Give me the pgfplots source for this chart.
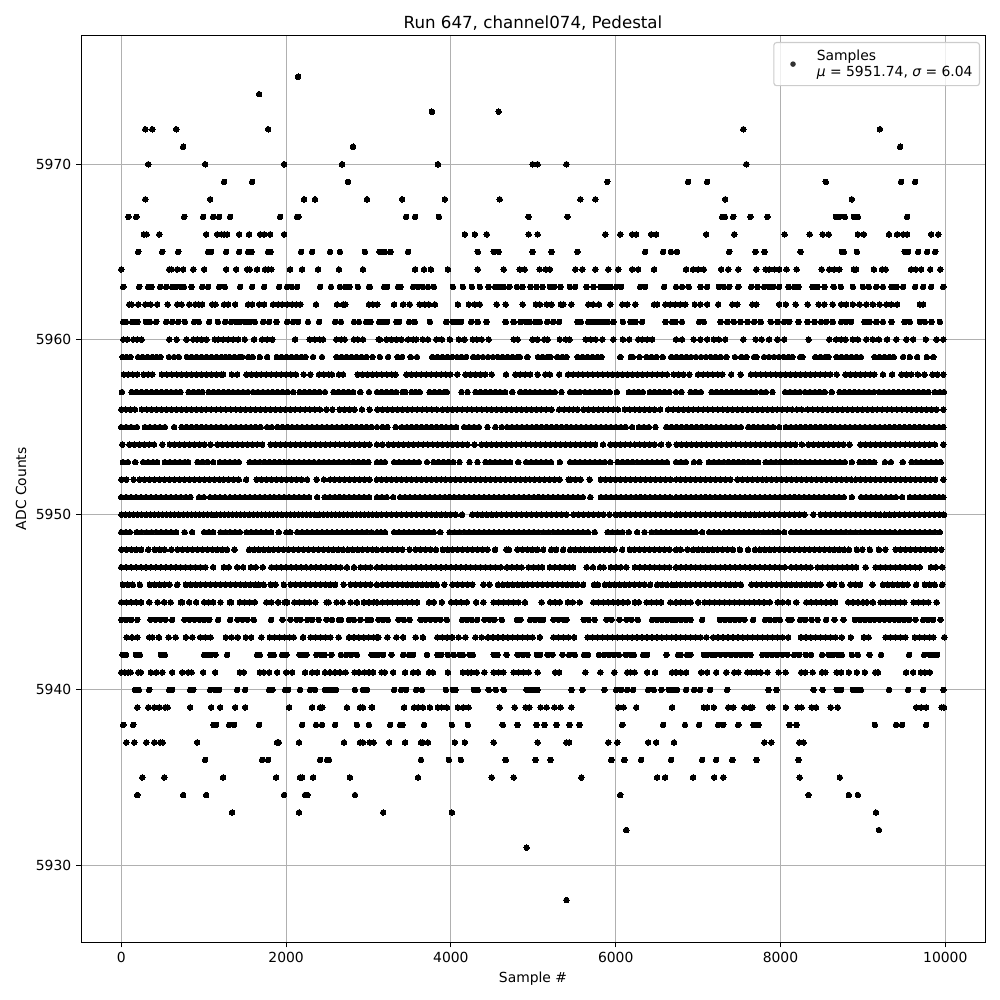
\documentclass[border=0pt]{standalone}
\usepackage{fontspec}
\setmainfont{DejaVu Sans}
\usepackage{pgfplots}
\pgfplotsset{compat=1.18}
\pgfplotsset{
 dot/.style={only marks,mark=*,mark size=2bp,mark options={draw=black,fill=black,line width=0pt},forget plot},
 dl/.style={only marks,mark=*,mark size=2bp,mark options={draw=black,fill=black,line width=0pt}},
 r/.style={/pgfplots/table/header=false,/pgfplots/table/x index=0}}
\begin{document}
\begin{tikzpicture}[x=1in,y=1in]
\useasboundingbox (0,0) rectangle (10,10);
\begin{axis}[at={(0.81in,0.575in)},anchor=south west,scale only axis,width=9.04in,height=9.075in,
 xmin=-489,xmax=10482,ymin=5925.58,ymax=5977.38,
 xtick={0,2000,...,10000},ytick={5930,5940,5950,5960,5970},
 scaled x ticks=false,scaled y ticks=false,
 /pgf/number format/assume math mode=true,
 /pgf/number format/set thousands separator={},
 ticklabel style={font=\fontsize{10bp}{12bp}\selectfont},
 tick align=outside,tick pos=left,major tick length=3.5bp,
 tick style={black,line width=0.8bp},
 axis line style={line width=0.6bp},
 grid=major,grid style={color={rgb,255:red,176;green,176;blue,176},line width=0.8bp},
 title={\fontsize{12bp}{14bp}\selectfont Run 647, channel074, Pedestal},
 title style={at={(0.5,1)},anchor=south,yshift=-6bp},
 xlabel={\fontsize{10bp}{12bp}\selectfont Sample \#},
 ylabel={\fontsize{10bp}{12bp}\selectfont ADC Counts},
 legend style={at={(0.9945,0.9923)},anchor=north east,draw={rgb,255:red,204;green,204;blue,204},line width=0.8bp,fill=white,fill opacity=0.8,text opacity=1,rounded corners=2bp,font=\fontsize{10bp}{12bp}\selectfont,nodes={align=left},inner xsep=3bp,inner ysep=3bp},
 legend cell align=left,
 legend image code/.code={\path[draw=none] (0,0) -- (0.36in,0);\fill[black,draw=none] (0.15in,0) circle[radius=2bp];},
]
\addplot[dl] table[r,y expr=5975]{
2145
};
\addlegendentry{Samples\\{\itshape μ} = 5951.74, {\itshape σ} = 6.04}
\addplot[dot] table[r,y expr=5974]{
1673
};
\addplot[dot] table[r,y expr=5973]{
3770
4580
};
\addplot[dot] table[r,y expr=5972]{
291
376
667
1782
7549
9207
};
\addplot[dot] table[r,y expr=5971]{
751
2812
9451
};
\addplot[dot] table[r,y expr=5970]{
327
1018
1976
2679
3843
4991
5052
5402
7585
};
\addplot[dot] table[r,y expr=5969]{
1248
1588
2751
5898
6878
7110
8549
9463
9634
};
\addplot[dot] table[r,y expr=5968]{
291
1079
2218
2351
2982
3408
3927
4592
5572
5753
7329
8866
};
\addplot[dot] table[r,y expr=5967]{
85
182
764
994
1115
1188
1321
1927
2133
2149
3456
3565
3855
4943
5415
7293
7325
7427
7634
7841
8671
8715
8780
8890
8939
9537
};
\addplot[dot] table[r,y expr=5966]{
275
307
461
1030
1164
1216
1248
1285
1430
1551
1685
1733
1806
1976
4169
4290
4435
4943
5052
5874
6055
6200
6249
6430
6491
7098
7439
8049
8354
8512
8585
8939
9012
9317
9415
9488
9537
9829
9915
};
\addplot[dot] table[r,y expr=5965]{
206
497
691
1054
1091
1273
1430
1539
1580
1782
1810
2182
2315
2533
2654
2957
3135
3158
3198
3267
3480
4326
4520
4580
4991
5221
5535
6358
6575
6671
6744
7378
7695
7805
8244
8744
8768
8927
9508
9549
9671
9780
9878
};
\addplot[dot] table[r,y expr=5964]{
0
582
610
679
751
873
1006
1273
1394
1527
1559
1648
1745
1782
1822
2048
2194
2388
2642
2933
3565
3674
3758
3964
4326
4641
4834
4895
5076
5153
5201
5511
5596
5753
5910
6031
6200
6273
6466
6854
6939
7000
7069
7280
7366
7488
7707
7821
7862
7927
7984
8073
8195
8500
8593
8654
8715
8890
8919
9134
9232
9276
9585
9642
9707
9817
9939
};
\addplot[dot] table[r,y expr=5963]{
24
218
327
368
473
545
618
658
723
760
852
982
1054
1188
1256
1442
1588
1733
1915
2012
2068
2133
2412
2545
2654
2715
2771
2872
3006
3017
3190
3226
3359
3387
3541
3601
3661
3722
3794
4024
4145
4254
4351
4455
4536
4588
4637
4709
4802
4870
4967
5040
5112
5201
5253
5330
5443
5507
5644
5729
5817
5878
5938
6007
6067
6297
6358
6587
6732
6805
6886
7028
7110
7252
7313
7378
7488
7646
7720
7801
7862
7911
7984
8098
8167
8220
8390
8451
8533
8646
8732
8878
9000
9073
9163
9244
9346
9406
9488
9634
9732
9829
9976
};
\addplot[dot] table[r,y expr=5962]{
97
125
206
291
356
436
562
679
731
824
897
941
982
1103
1143
1248
1297
1382
1539
1588
1673
1733
1842
1903
1951
2012
2072
2125
2174
2363
2618
2691
2719
3006
3054
3107
3311
3420
3501
3621
3682
3734
3807
4085
4218
4290
4351
4556
4665
4870
5032
5080
5161
5221
5334
5366
5463
5668
5725
5797
5934
6080
6140
6237
6466
6503
6604
6664
6724
6785
6846
6960
7028
7110
7244
7415
7476
7659
7707
7984
8065
8183
8329
8463
8533
8634
8736
8797
8878
8959
9041
9122
9203
9285
9346
9415
9691
9732
};
\addplot[dot] table[r,y expr=5961]{
24
57
133
194
299
347
424
545
618
691
772
885
941
1067
1172
1260
1333
1390
1438
1499
1559
1620
1721
1794
1883
2012
2085
2145
2266
2400
2594
2666
2824
2885
2973
3022
3130
3178
3226
3339
3371
3492
3561
3746
3944
4024
4073
4125
4246
4326
4431
4665
4762
4846
4911
4951
5024
5080
5169
5241
5314
5535
5576
5668
5725
5777
5838
5898
5971
6088
6180
6241
6321
6604
6684
6724
6805
7012
7069
7272
7354
7435
7516
7598
7679
7760
7882
7963
8045
8106
8220
8329
8411
8492
8553
8634
8736
8797
8858
9020
9081
9163
9244
9346
9508
9569
9691
9752
9833
9935
};
\addplot[dot] table[r,y expr=5960]{
24
73
145
194
246
582
671
792
873
921
974
1034
1135
1176
1236
1297
1357
1418
1499
1612
1709
1770
1834
2109
2287
2347
2408
2448
2610
2670
2711
2824
2872
2933
3123
3138
3218
3279
3339
3400
3480
3541
3581
3661
3722
3823
3891
3988
4097
4165
4266
4314
4375
4459
4762
4810
4991
5052
5132
5173
5322
5394
5439
5636
5697
5757
5838
5971
6088
6164
6273
6321
6382
6442
6732
6805
6947
7028
7110
7191
7252
7329
7549
7699
7772
7862
7963
8045
8341
8593
8675
8736
8789
8878
8939
9041
9122
9195
9293
9406
9528
9610
9764
9894
9976
};
\addplot[dot] table[r,y expr=5959]{
16
65
113
204
260
320
375
430
477
578
640
699
796
855
915
975
1035
1095
1155
1215
1265
1309
1370
1430
1466
1539
1596
1681
1770
1887
1945
2005
2065
2125
2185
2234
2327
2436
2614
2675
2735
2795
2855
2915
2975
3050
3138
3238
3351
3408
3512
3589
3774
3835
3895
3955
4015
4075
4125
4185
4270
4330
4390
4450
4510
4570
4630
4690
4750
4810
4838
4927
5056
5115
5170
5209
5290
5350
5402
5539
5600
5660
5720
5780
5826
6055
6184
6208
6289
6374
6435
6495
6571
6675
6735
6795
6855
6915
6975
7035
7095
7155
7215
7275
7342
7447
7524
7585
7679
7707
7801
7861
7921
7981
8041
8101
8146
8240
8268
8423
8483
8543
8581
8679
8739
8799
8859
8919
8976
9142
9202
9262
9322
9374
9488
9569
9659
9776
9854
};
\addplot[dot] table[r,y expr=5958]{
32
85
140
194
271
325
376
493
553
613
673
733
793
853
913
973
1033
1093
1153
1213
1236
1341
1406
1519
1579
1639
1699
1759
1819
1879
1939
1999
2059
2119
2214
2295
2400
2460
2520
2557
2642
2691
2868
2928
2988
3048
3103
3163
3223
3283
3327
3460
3520
3580
3640
3700
3760
3820
3880
3940
3992
4077
4177
4237
4297
4357
4417
4496
4669
4782
4842
4902
4962
5052
5145
5201
5314
5423
5483
5543
5603
5663
5723
5783
5843
5903
5963
6023
6083
6143
6203
6263
6323
6383
6443
6503
6563
6623
6704
6764
6824
6894
7000
7060
7120
7180
7240
7293
7402
7516
7642
7702
7762
7822
7882
7942
8002
8062
8122
8182
8242
8302
8362
8422
8482
8542
8602
8683
8789
8849
8909
8969
9029
9089
9138
9244
9354
9467
9527
9587
9667
9748
9845
9905
9976
};
\addplot[dot] table[r,y expr=5957]{
8
125
185
245
305
365
425
485
545
605
665
719
816
876
936
982
1058
1118
1178
1238
1298
1358
1418
1478
1538
1598
1658
1718
1778
1838
1898
1958
2018
2085
2165
2225
2285
2345
2405
2472
2574
2634
2694
2754
2814
2901
3006
3103
3160
3220
3280
3335
3412
3448
3524
3574
3621
3742
3802
3862
3922
3952
4129
4202
4298
4358
4418
4478
4538
4598
4658
4745
4842
4902
4962
5022
5082
5142
5202
5262
5342
5447
5507
5567
5627
5687
5747
5807
5867
5927
6015
6160
6220
6280
6329
6414
6474
6534
6594
6654
6732
6800
6911
6972
7033
7163
7223
7283
7343
7403
7463
7523
7583
7643
7703
7763
7823
7902
8057
8117
8177
8237
8297
8357
8417
8477
8537
8622
8715
8775
8835
8895
8955
9015
9075
9135
9195
9255
9315
9375
9435
9495
9555
9615
9675
9735
9795
9874
9935
9984
};
\addplot[dot] table[r,y expr=5956]{
0
55
110
166
250
310
370
430
490
550
610
670
730
790
850
910
970
1030
1090
1150
1210
1270
1330
1390
1450
1510
1570
1630
1690
1750
1810
1870
1930
1990
2050
2110
2170
2230
2290
2350
2410
2489
2562
2650
2710
2770
2830
2921
3014
3107
3170
3230
3290
3350
3410
3470
3530
3590
3650
3710
3770
3830
3900
3956
4016
4076
4136
4196
4256
4316
4376
4436
4496
4556
4616
4676
4736
4796
4856
4916
4976
5036
5096
5156
5221
5314
5374
5434
5483
5540
5608
5668
5728
5788
5848
5908
5968
6027
6112
6172
6232
6292
6352
6412
6472
6539
6636
6696
6760
6820
6880
6940
7000
7060
7120
7180
7240
7300
7360
7420
7480
7540
7600
7660
7720
7780
7840
7900
7960
8020
8080
8140
8200
8260
8333
8393
8453
8513
8573
8633
8693
8753
8813
8873
8933
8993
9053
9113
9173
9233
9293
9353
9413
9473
9533
9593
9653
9713
9773
9833
9893
9976
};
\addplot[dot] table[r,y expr=5955]{
0
60
120
190
287
347
407
467
529
642
731
791
851
911
971
1031
1091
1151
1211
1271
1331
1391
1451
1511
1571
1631
1691
1770
1826
1895
1955
2015
2075
2135
2195
2255
2315
2375
2435
2495
2555
2615
2675
2735
2795
2855
2915
2975
3035
3103
3170
3230
3330
3404
3464
3524
3584
3644
3704
3764
3824
3884
3944
4004
4064
4161
4221
4281
4341
4443
4540
4617
4681
4741
4801
4861
4921
4981
5041
5101
5161
5221
5281
5341
5401
5461
5521
5581
5641
5701
5761
5821
5881
5941
6001
6061
6121
6200
6281
6341
6401
6482
6615
6675
6740
6800
6860
6920
6980
7040
7100
7160
7220
7280
7340
7400
7460
7520
7610
7670
7730
7790
7850
7910
7984
8065
8125
8185
8245
8305
8365
8425
8485
8545
8605
8665
8725
8785
8845
8905
8965
9025
9085
9145
9205
9265
9325
9385
9445
9505
9565
9625
9685
9745
9805
9865
9925
9976
};
\addplot[dot] table[r,y expr=5954]{
12
97
157
217
277
337
397
497
590
650
710
770
830
890
950
1010
1083
1168
1228
1288
1348
1408
1468
1528
1588
1648
1709
1814
1874
1934
1994
2054
2114
2174
2234
2294
2354
2414
2474
2534
2594
2654
2714
2774
2834
2894
2954
3014
3103
3170
3242
3302
3362
3422
3482
3542
3602
3662
3722
3782
3842
3902
3962
4022
4082
4142
4202
4286
4371
4431
4491
4551
4611
4671
4731
4791
4851
4911
4971
5031
5091
5151
5211
5271
5331
5391
5451
5511
5571
5631
5691
5751
5846
5934
5994
6054
6114
6174
6234
6294
6354
6414
6474
6551
6644
6740
6800
6860
6920
6980
7040
7100
7160
7220
7280
7340
7400
7460
7520
7580
7640
7700
7760
7820
7880
7940
8000
8060
8120
8180
8260
8341
8401
8461
8521
8581
8641
8701
8761
8837
8971
9031
9091
9151
9211
9271
9331
9391
9451
9511
9571
9631
9691
9751
9811
9874
9976
};
\addplot[dot] table[r,y expr=5953]{
20
80
170
267
327
387
436
529
589
649
709
769
812
925
985
1045
1115
1196
1256
1316
1376
1426
1559
1619
1679
1739
1799
1859
1919
1979
2039
2099
2159
2219
2279
2339
2399
2459
2519
2579
2639
2699
2759
2819
2879
2939
2999
3103
3150
3200
3311
3371
3431
3491
3551
3611
3710
3790
3850
3910
3970
4030
4105
4226
4322
4419
4479
4539
4599
4659
4719
4818
4915
4975
5035
5095
5155
5215
5322
5447
5507
5567
5627
5687
5747
5807
5867
5934
6023
6083
6143
6203
6263
6323
6383
6443
6503
6563
6623
6732
6790
6850
6950
7016
7130
7190
7250
7310
7370
7430
7490
7550
7610
7670
7728
7821
7881
7941
8001
8061
8121
8181
8241
8301
8361
8421
8481
8541
8601
8661
8721
8781
8866
8959
9019
9079
9138
9268
9341
9484
9589
9649
9709
9769
9829
9889
9943
};
\addplot[dot] table[r,y expr=5952]{
0
60
150
226
286
346
406
466
526
586
646
706
766
826
886
946
1006
1066
1126
1186
1246
1306
1366
1426
1515
1644
1704
1764
1824
1884
1944
2004
2064
2124
2184
2254
2371
2460
2533
2593
2653
2713
2773
2833
2893
2953
3013
3103
3160
3220
3280
3340
3400
3460
3520
3580
3640
3700
3760
3820
3880
3940
4000
4060
4120
4180
4240
4300
4360
4420
4480
4540
4600
4660
4720
4780
4840
4900
4960
5020
5080
5140
5200
5260
5320
5430
5455
5515
5575
5685
5821
5881
5941
6001
6061
6121
6181
6241
6301
6361
6421
6481
6541
6601
6661
6732
6790
6850
6910
6970
7030
7090
7150
7210
7270
7330
7390
7476
7536
7596
7656
7716
7776
7836
7896
7956
8016
8076
8136
8196
8256
8316
8376
8436
8496
8556
8616
8676
8736
8796
8856
8916
8976
9036
9096
9156
9216
9276
9336
9396
9456
9516
9576
9636
9696
9756
9816
9876
9976
};
\addplot[dot] table[r,y expr=5951]{
0
60
120
180
240
300
360
420
480
540
600
660
720
780
840
943
1002
1079
1139
1199
1259
1319
1379
1439
1499
1559
1619
1679
1739
1799
1859
1919
1979
2039
2099
2159
2219
2279
2376
2468
2528
2588
2648
2708
2768
2828
2888
2948
3008
3103
3160
3220
3300
3383
3443
3503
3563
3623
3683
3743
3803
3863
3923
3983
4043
4103
4163
4223
4283
4343
4403
4463
4523
4583
4643
4703
4763
4823
4883
4943
5003
5063
5123
5183
5243
5303
5363
5423
5483
5543
5603
5693
5821
5881
5941
6001
6061
6121
6181
6241
6301
6361
6421
6481
6541
6601
6661
6732
6790
6850
6910
6970
7030
7090
7150
7210
7270
7330
7390
7450
7510
7570
7630
7690
7750
7810
7870
7930
7990
8050
8110
8170
8230
8290
8350
8410
8470
8530
8590
8650
8710
8770
8867
8980
9040
9100
9160
9220
9280
9340
9400
9476
9569
9629
9689
9749
9809
9869
9929
9976
};
\addplot[dot] table[r,y expr=5950]{
0
50
100
150
200
250
300
350
400
450
500
550
600
650
700
750
800
850
900
950
1000
1050
1100
1150
1200
1250
1300
1350
1400
1450
1500
1550
1600
1650
1700
1750
1800
1850
1900
1950
2000
2050
2100
2150
2200
2250
2300
2350
2400
2450
2500
2550
2600
2650
2700
2750
2800
2850
2900
2950
3000
3050
3103
3160
3220
3280
3340
3400
3460
3520
3580
3640
3700
3760
3820
3880
3940
4000
4060
4135
4258
4318
4378
4438
4498
4558
4618
4678
4738
4798
4858
4918
4978
5038
5098
5158
5218
5278
5338
5402
5487
5547
5607
5667
5727
5787
5847
5926
6003
6063
6123
6183
6243
6303
6363
6423
6483
6543
6603
6663
6732
6790
6850
6910
6970
7030
7090
7150
7210
7270
7330
7390
7450
7510
7570
7630
7690
7750
7810
7870
7930
7990
8050
8110
8170
8230
8290
8398
8488
8548
8608
8668
8728
8788
8848
8908
8968
9028
9088
9148
9208
9268
9328
9388
9448
9508
9568
9628
9688
9748
9808
9868
9928
9984
};
\addplot[dot] table[r,y expr=5949]{
0
55
105
186
246
306
366
426
486
546
606
666
768
860
1006
1060
1115
1204
1264
1324
1384
1438
1519
1579
1639
1699
1759
1819
1911
2004
2052
2137
2197
2257
2317
2377
2437
2497
2557
2617
2677
2737
2797
2857
2917
2977
3037
3103
3150
3200
3311
3371
3431
3491
3551
3611
3671
3731
3791
3871
3984
4044
4104
4164
4224
4284
4344
4404
4464
4524
4584
4644
4704
4764
4824
4884
4944
5004
5064
5124
5184
5244
5304
5364
5424
5484
5544
5604
5664
5745
5902
5962
6022
6082
6160
6261
6350
6434
6494
6554
6614
6674
6732
6790
6850
6910
6970
7050
7134
7194
7254
7314
7374
7434
7494
7554
7614
7674
7734
7794
7854
7914
7974
8045
8130
8190
8250
8310
8370
8430
8490
8550
8610
8670
8730
8790
8850
8910
8970
9030
9090
9150
9210
9270
9330
9390
9450
9510
9570
9630
9690
9750
9810
9870
9935
};
\addplot[dot] table[r,y expr=5948]{
0
60
120
180
240
327
408
468
528
606
683
743
803
863
923
983
1043
1103
1163
1223
1283
1374
1551
1611
1671
1731
1791
1851
1911
1971
2031
2091
2151
2211
2271
2331
2391
2451
2511
2571
2631
2691
2751
2811
2871
2931
2991
3051
3103
3170
3230
3290
3350
3410
3500
3573
3633
3693
3753
3819
3903
3963
4023
4083
4143
4203
4263
4323
4383
4443
4536
4673
4705
4806
4866
4926
4986
5046
5120
5217
5277
5362
5447
5507
5567
5627
5687
5747
5807
5867
5927
5987
6079
6172
6232
6292
6352
6412
6472
6532
6592
6652
6732
6790
6870
6939
6999
7059
7119
7179
7239
7299
7359
7423
7508
7606
7691
7751
7811
7871
7931
7991
8051
8111
8171
8231
8291
8351
8411
8471
8531
8591
8651
8711
8771
8831
8927
8992
9085
9195
9272
9398
9458
9518
9578
9638
9698
9758
9818
9878
9951
};
\addplot[dot] table[r,y expr=5947]{
0
60
120
180
240
300
360
420
480
540
600
660
720
780
840
900
960
1020
1115
1244
1304
1406
1479
1572
1632
1717
1822
1882
1942
2002
2062
2122
2182
2242
2302
2362
2422
2482
2542
2602
2662
2739
2824
2905
2965
3025
3103
3160
3220
3280
3340
3400
3460
3520
3580
3640
3700
3760
3820
3880
3940
4000
4060
4120
4180
4240
4300
4360
4420
4480
4540
4605
4681
4741
4801
4858
4943
5003
5063
5108
5201
5261
5321
5381
5441
5483
5648
5725
5810
5854
5942
6002
6062
6128
6233
6293
6353
6413
6473
6533
6593
6653
6732
6790
6850
6910
6970
7030
7090
7150
7210
7270
7330
7390
7450
7510
7570
7630
7690
7750
7810
7870
7930
7990
8053
8130
8190
8250
8310
8366
8451
8511
8571
8631
8691
8751
8811
8871
8919
9033
9154
9214
9274
9334
9394
9454
9514
9574
9634
9691
9825
9885
9963
};
\addplot[dot] table[r,y expr=5946]{
20
80
140
226
347
407
467
527
587
679
784
844
904
964
1024
1084
1144
1204
1264
1324
1384
1444
1504
1564
1624
1669
1729
1814
1874
1972
2056
2116
2176
2236
2296
2356
2416
2476
2536
2596
2699
2784
2844
2904
2964
3024
3103
3170
3230
3290
3350
3410
3470
3530
3590
3650
3710
3770
3830
3920
4020
4080
4140
4200
4260
4395
4467
4572
4632
4692
4752
4812
4872
4932
4992
5052
5112
5172
5232
5292
5352
5412
5472
5532
5604
5737
5785
5870
5930
5990
6050
6110
6170
6230
6290
6350
6418
6503
6563
6623
6683
6732
6790
6850
6910
6970
7030
7090
7150
7210
7270
7330
7390
7450
7520
7650
7710
7770
7830
7890
7950
8010
8070
8130
8190
8250
8310
8370
8430
8488
8593
8653
8744
8850
8910
8967
9118
9244
9304
9364
9424
9484
9544
9646
9752
9812
9872
9963
};
\addplot[dot] table[r,y expr=5945]{
0
60
120
180
240
339
440
520
598
723
739
824
909
1006
1060
1115
1204
1317
1333
1438
1498
1558
1620
1761
1821
1903
1984
2012
2101
2161
2221
2281
2355
2493
2517
2614
2687
2784
2860
2945
3005
3065
3103
3170
3230
3290
3350
3410
3470
3530
3590
3734
3794
3891
4004
4064
4124
4193
4306
4395
4520
4580
4640
4700
4760
4820
4899
5100
5205
5265
5322
5419
5479
5564
5729
5789
5849
5909
5969
6029
6089
6148
6233
6281
6374
6434
6494
6551
6664
6732
6790
6850
6910
7000
7081
7141
7201
7261
7321
7381
7441
7501
7561
7621
7681
7741
7801
7870
7967
8027
8093
8191
8313
8373
8433
8493
8553
8613
8663
8821
8881
8941
9001
9049
9122
9215
9275
9335
9395
9455
9504
9614
9674
9734
9794
9894
};
\addplot[dot] table[r,y expr=5944]{
0
60
120
194
355
415
475
535
618
768
828
888
948
1008
1068
1176
1321
1410
1470
1530
1608
1818
1955
2052
2125
2174
2258
2318
2396
2489
2557
2642
2666
2763
2823
2901
2986
3030
3121
3175
3234
3363
3430
3500
3633
3693
3753
3813
3873
3952
4137
4197
4254
4318
4407
4467
4527
4617
4802
4846
4963
5023
5083
5120
5245
5305
5365
5402
5612
5672
5745
5890
5950
6047
6132
6192
6269
6442
6502
6562
6622
6682
6732
6790
6850
6910
7050
7264
7324
7384
7444
7504
7564
7667
7813
7873
7933
7992
8098
8134
8240
8300
8378
8451
8553
8654
8764
8902
8962
9022
9082
9142
9202
9262
9322
9382
9442
9502
9562
9638
9732
9792
9852
9943
};
\addplot[dot] table[r,y expr=5943]{
65
130
194
339
376
457
574
659
784
861
958
1020
1083
1269
1340
1414
1511
1576
1701
1802
1862
1922
1982
2042
2093
2206
2299
2359
2419
2479
2539
2638
2763
2823
2883
2943
3003
3063
3103
3120
3230
3339
3420
3573
3661
3835
3895
3955
4015
4093
4177
4298
4375
4451
4511
4571
4631
4691
4751
4811
4871
4931
4991
5080
5245
5305
5365
5425
5495
5660
5720
5780
5840
5900
5960
6020
6080
6140
6200
6260
6320
6380
6440
6500
6560
6620
6680
6732
6790
6850
6910
6970
7030
7100
7183
7243
7303
7363
7423
7483
7543
7603
7663
7723
7783
7843
7903
7963
8023
8093
8248
8308
8368
8428
8488
8548
8608
8668
8744
8854
9012
9069
9276
9336
9396
9456
9516
9630
9690
9750
9810
9854
9988
};
\addplot[dot] table[r,y expr=5942]{
16
57
178
226
481
529
1006
1054
1095
1143
1285
1648
1681
1810
1850
1951
2004
2165
2214
2246
2367
2428
2468
2549
2666
2731
2792
2860
3038
3095
3057
3117
3178
3279
3420
3492
3541
3710
3835
3883
3964
4036
4105
4145
4226
4266
4520
4568
4677
4810
4870
4931
5044
5084
5173
5233
5354
5435
5503
5616
5664
5797
5858
5918
5979
6039
6120
6180
6221
6333
6382
6616
6757
6789
6866
6906
7069
7110
7171
7211
7272
7333
7394
7455
7516
7577
7638
7780
7841
7902
7963
8024
8085
8167
8228
8309
8370
8504
8585
8634
8695
8744
8866
8939
9081
9220
9561
9744
9813
9854
9902
};
\addplot[dot] table[r,y expr=5941]{
0
44
85
113
206
238
360
424
497
618
739
812
852
994
1139
1438
1487
1681
1729
1794
1891
2000
2073
2230
2315
2376
2472
2533
2594
2654
2723
2832
2885
2953
3006
3054
3057
3158
3198
3299
3444
3541
3601
3734
3782
3964
4145
4206
4246
4314
4407
4520
4580
4637
4762
4822
4879
4943
5052
5265
5314
5632
5814
5983
6140
6180
6229
6382
6478
6684
6724
6732
6789
6854
7037
7110
7220
7342
7439
7488
7598
7646
7707
7760
7841
7976
8061
8252
8301
8390
8504
8545
8683
8736
8829
8927
9024
9150
9183
9524
9610
9703
9752
9813
};
\addplot[dot] table[r,y expr=5940]{
166
214
339
582
618
836
873
1079
1139
1188
1406
1503
1794
1834
1988
2024
2169
2291
2351
2472
2509
2557
2606
2836
2933
2982
3311
3396
3456
3577
3649
3940
4024
4056
4278
4326
4459
4544
4641
4919
4971
5020
5052
5463
5596
5862
6007
6067
6140
6212
6394
6462
6555
6644
6704
6663
6703
6744
6854
6951
7024
7146
7354
7854
7951
8402
8512
8683
8736
8878
8927
8976
9317
9549
9732
9976
};
\addplot[dot] table[r,y expr=5939]{
194
327
400
461
533
562
836
1091
1200
1382
1503
2036
2315
2412
2440
2739
2897
2933
3038
3045
3432
3553
3601
3661
3746
3843
3887
3952
4085
4149
4214
4592
4774
4907
4951
5088
5161
5257
5330
5463
6031
6096
6249
6684
7069
7110
7191
7366
7427
7561
7630
7659
7862
7902
8065
8207
8256
8378
8431
8610
8695
9646
9707
9768
9955
9984
};
\addplot[dot] table[r,y expr=5938]{
24
145
1119
1151
1309
1370
1673
2194
2363
2436
2594
2860
3006
3263
3383
3412
3674
4012
4206
4629
4810
5040
5136
5282
5439
5560
6080
6575
6841
7012
7244
7305
7488
7671
7732
8110
8195
9146
9402
9476
9768
};
\addplot[dot] table[r,y expr=5937]{
61
158
303
400
473
501
921
1891
1911
2157
2703
2897
2933
3014
3062
3251
3444
3637
3661
3722
4048
4169
4520
5052
5402
5435
5910
6019
6394
6491
6708
7805
7890
8228
8280
};
\addplot[dot] table[r,y expr=5936]{
1018
1709
1782
2412
2497
2521
3637
3976
4121
4665
5028
5209
5947
6104
6309
6672
7049
7220
7415
7707
8220
};
\addplot[dot] table[r,y expr=5935]{
255
521
1236
1879
2169
2194
2327
2775
3601
4496
4762
5584
6503
6599
6939
7195
7305
8232
8720
};
\addplot[dot] table[r,y expr=5934]{
194
751
1030
1976
2230
2258
2836
6055
8341
8829
8939
};
\addplot[dot] table[r,y expr=5933]{
1345
2157
3178
4012
9159
};
\addplot[dot] table[r,y expr=5932]{
6128
9195
};
\addplot[dot] table[r,y expr=5931]{
4919
};
\addplot[dot] table[r,y expr=5928]{
5402
};
\end{axis}
\end{tikzpicture}
\end{document}
